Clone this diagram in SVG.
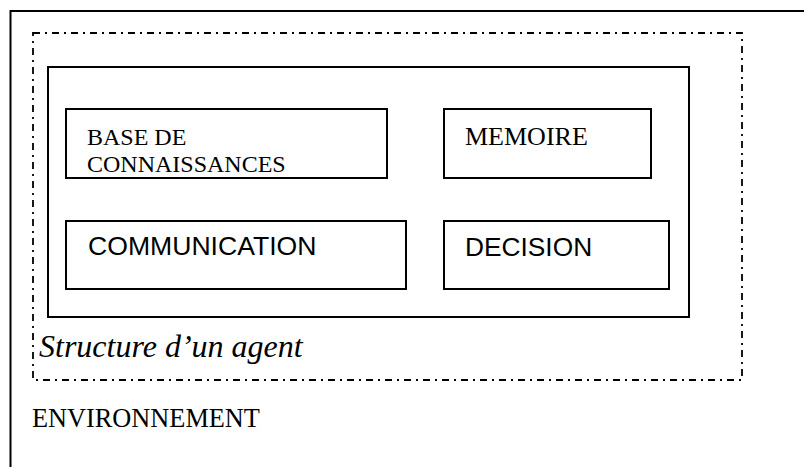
<svg xmlns="http://www.w3.org/2000/svg" width="804" height="467" viewBox="0 0 804 467">
<style>
.box{fill:none;stroke:#000;stroke-width:2}
.dash{fill:none;stroke:#000;stroke-width:1.8;stroke-dasharray:7 5 2 5}
.tr{font-family:"Liberation Serif","Times New Roman",serif;fill:#000}
.ar{font-family:"Liberation Sans",Arial,sans-serif;fill:#000}
</style>
<rect width="804" height="467" fill="#fff"/>
<g id="environnement">
<rect class="box" x="10.5" y="11" width="810" height="480"/>
<text class="tr" x="32" y="427" font-size="26.3">ENVIRONNEMENT</text>
</g>
<g id="agent-boundary">
<rect class="dash" x="33" y="33" width="709" height="347"/>
<text class="tr" x="39" y="357" font-size="32" font-style="italic">Structure d’un agent</text>
</g>
<g id="agent">
<rect class="box" x="48" y="67" width="641" height="250"/>
</g>
<g id="base">
<rect class="box" x="66" y="109" width="321" height="69"/>
<text class="tr" x="87" y="145" font-size="24">BASE DE</text>
<text class="tr" x="87" y="172" font-size="24">CONNAISSANCES</text>
</g>
<g id="memoire">
<rect class="box" x="444" y="109" width="207" height="69"/>
<text class="tr" x="465" y="145" font-size="26">MEMOIRE</text>
</g>
<g id="communication">
<rect class="box" x="66" y="221" width="340" height="68"/>
<text class="ar" x="88" y="255" font-size="26.6">COMMUNICATION</text>
</g>
<g id="decision">
<rect class="box" x="444" y="221" width="225" height="68"/>
<text class="ar" x="465" y="256" font-size="26.3">DECISION</text>
</g>
<g id="connectors"></g>
</svg>
